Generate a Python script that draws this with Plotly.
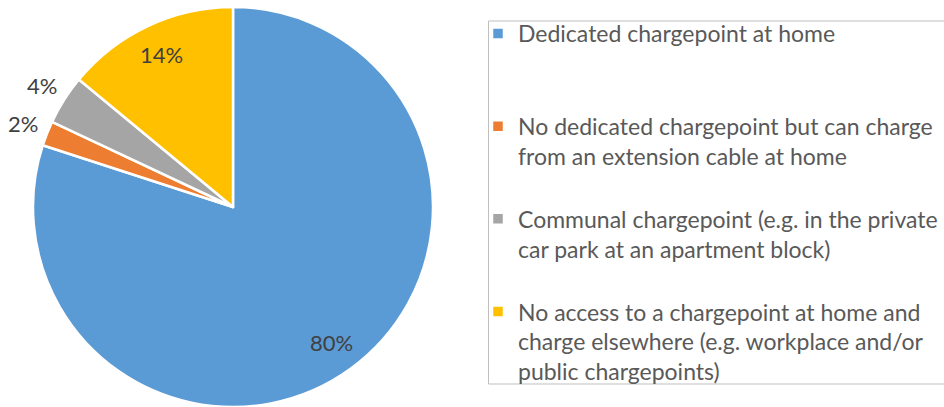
import math
import plotly.graph_objects as go

# Home charging access among EV owners
categories = [
    "Dedicated chargepoint at home",
    "No dedicated chargepoint but can charge<br>from an extension cable at home",
    "Communal chargepoint (e.g. in the private<br>car park at an apartment block)",
    "No access to a chargepoint at home and<br>charge elsewhere (e.g. workplace and/or<br>public chargepoints)",
]
shares = [80, 2, 4, 14]
colors = ["#5B9BD5", "#ED7D31", "#A5A5A5", "#FFC000"]
label_outside = [False, True, True, False]

FONT = "Lato"
W, H = 944, 407

# pie placement (pixels)
PIE_LEFT, PIE_RIGHT = 33, 433
PIE_TOP_PX = 400  # height of the pie domain measured from the bottom
R = (PIE_RIGHT - PIE_LEFT) / 2

# pad each legend entry to three lines so the entries are evenly spaced
legend_names = []
for name in categories:
    n_lines = name.count("<br>") + 1
    legend_names.append(name + "<br> " * max(0, 3 - n_lines))

fig = go.Figure(
    go.Pie(
        labels=legend_names,
        values=shares,
        sort=False,
        direction="clockwise",
        rotation=0,
        marker=dict(colors=colors, line=dict(color="white", width=2.5)),
        textinfo="none",
        domain=dict(x=[PIE_LEFT / W, PIE_RIGHT / W], y=[0.0, PIE_TOP_PX / H]),
        hoverinfo="label+percent",
    )
)

# percentage labels placed along each slice's middle angle
total = sum(shares)
cx = (PIE_LEFT + PIE_RIGHT) / 2 / W
cy = (PIE_TOP_PX / 2) / H
annotations = []
cum = 0
for v, outside in zip(shares, label_outside):
    theta = 2 * math.pi * (cum + v / 2) / total  # clockwise from 12 o'clock
    cum += v
    k = 1.13 if outside else 0.84
    annotations.append(
        dict(
            x=cx,
            y=cy,
            xref="paper",
            yref="paper",
            xshift=math.sin(theta) * k * R,
            yshift=math.cos(theta) * k * R,
            text=f"{round(100 * v / total)}%",
            showarrow=False,
            xanchor="center",
            yanchor="middle",
            font=dict(family=FONT, size=22, color="#404040"),
        )
    )

fig.update_layout(
    width=W,
    height=H,
    margin=dict(l=0, r=0, t=0, b=0),
    paper_bgcolor="white",
    plot_bgcolor="white",
    showlegend=True,
    legend=dict(
        x=478 / W,
        y=1 - 12 / H,
        xanchor="left",
        yanchor="top",
        font=dict(family=FONT, size=23, color="#595959"),
        valign="top",
        bgcolor="rgba(0,0,0,0)",
        borderwidth=0,
        traceorder="normal",
    ),
    annotations=annotations,
    shapes=[
        dict(
            type="rect",
            xref="paper",
            yref="paper",
            x0=488.5 / W,
            x1=1.02,
            y0=1 - 384 / H,
            y1=1 - 21 / H,
            line=dict(color="#BFBFBF", width=1),
            fillcolor="rgba(0,0,0,0)",
            layer="below",
        )
    ],
)

fig.write_html("out.html")
